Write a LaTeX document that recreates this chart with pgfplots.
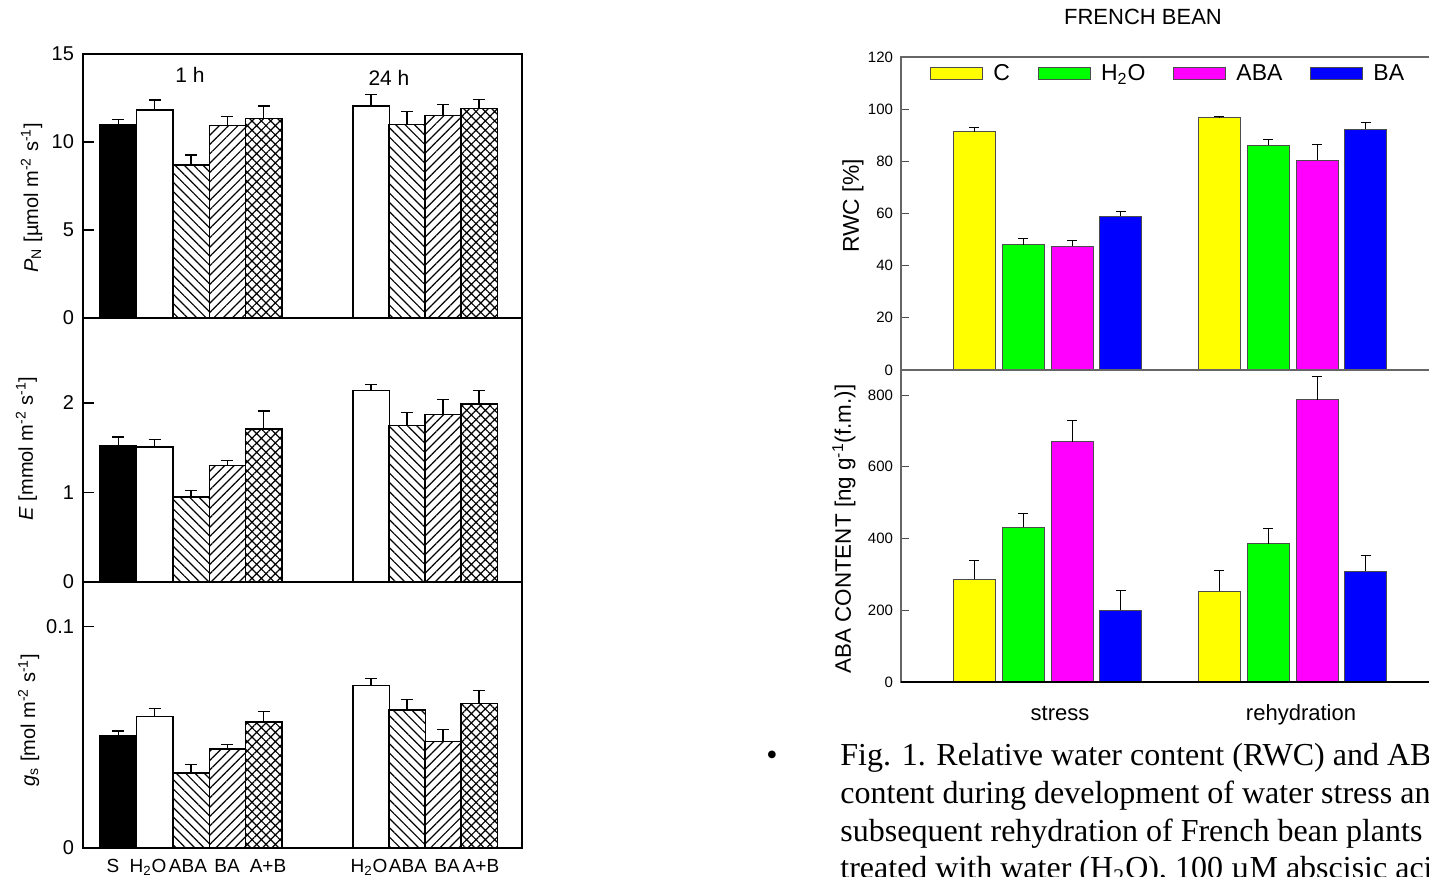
\documentclass[border=0pt]{standalone}
\usepackage{pgfplots}
\pgfplotsset{compat=1.18}
\usetikzlibrary{patterns.meta}
\usepackage{fontspec}
\setmainfont{Liberation Sans}
\newfontfamily\serif{Liberation Serif}

\definecolor{cY}{RGB}{255,255,0}
\definecolor{cG}{RGB}{0,255,0}
\definecolor{cM}{RGB}{255,0,255}
\definecolor{cB}{RGB}{0,0,255}

\pgfplotsset{
  leftpanel/.style={
    scale only axis, width=219.5pt, xmin=83, xmax=522,
    ymin=0, anchor=south west,
    axis line style={line width=0.8pt},
    ytick pos=left, tick align=inside, major tick length=5.5pt,
    tick style={line width=0.6pt, black},
    xtick=\empty,
    /pgf/number format/assume math mode=true,
    tick label style={font=\fontsize{10}{12}\selectfont},
    yticklabel style={xshift=-1pt},
    ybar,
    error bars/y dir=plus, error bars/y explicit,
    error bars/error mark options={rotate=90, black, mark size=3pt, line width=0.6pt},
    error bars/error bar style={black, line width=0.6pt},
    clip=false,
  },
  lbar/.style={ybar, bar width=36.4, bar shift=0pt, draw=black, line width=0.7pt},
  sS/.style={lbar, fill=black},
  sW/.style={lbar, fill=white},
  sABA/.style={lbar, pattern={Lines[angle=-45,distance=3.3pt,line width=0.6pt]}},
  sBA/.style={lbar, pattern={Lines[angle=45,distance=3.3pt,line width=0.6pt]}},
  sAB/.style={lbar, pattern={Hatch[angle=45,distance=3.3pt,line width=0.6pt]}},
  rightpanel/.style={
    scale only axis, width=269.5pt, xmin=901, xmax=1440,
    ymin=0, anchor=south west,
    axis line style={draw=black!60, line width=0.6pt},
    ytick pos=left, tick align=inside, major tick length=4pt,
    tick style={line width=0.6pt, black!70},
    xtick=\empty,
    /pgf/number format/assume math mode=true,
    tick label style={font=\fontsize{7.5}{9}\selectfont},
    yticklabel style={xshift=-0.5pt},
    ybar,
    error bars/y dir=plus, error bars/y explicit,
    error bars/error mark options={rotate=90, black, mark size=2.5pt, line width=0.5pt},
    error bars/error bar style={black, line width=0.5pt},
    clip=false,
    after end axis/.code={\draw[black, line width=1.1pt] (rel axis cs:0,0) -- (rel axis cs:1,0);},
  },
  rbar/.style={ybar, bar width=42, bar shift=0pt, draw=black!70, line width=0.5pt},
}

\begin{document}
\begin{tikzpicture}
\useasboundingbox (0,0) rectangle (714.5pt,438.5pt);
\clip (0,0) rectangle (714.5pt,438.5pt);

% ---------------- left: P_N ----------------
\begin{axis}[leftpanel, at={(41.5pt,279.5pt)}, height=132pt, ymax=15, ytick={0,5,10,15},
  ylabel={\textit{P}\textsubscript{N} [µmol m\textsuperscript{-2} s\textsuperscript{-1}]},
  every axis y label/.style={at={(axis description cs:-0.1025,0.456)}, rotate=90, anchor=base, font=\fontsize{10}{12}\selectfont}]
\addplot[sS]   coordinates {(118.2,11.0) +- (0,0.3)};
\addplot[sW]   coordinates {(154.6,11.82) +- (0,0.57) (371,12.05) +- (0,0.66)};
\addplot[sABA] coordinates {(191,8.69) +- (0,0.57) (407,11.0) +- (0,0.74)};
\addplot[sBA]  coordinates {(227.4,10.93) +- (0,0.51) (443,11.5) +- (0,0.62)};
\addplot[sAB]  coordinates {(263.8,11.35) +- (0,0.7) (479,11.89) +- (0,0.51)};
\node[font=\fontsize{10.5}{12}\selectfont] at (axis cs:190,13.8) {1 h};
\node[font=\fontsize{10.5}{12}\selectfont] at (axis cs:389,13.64) {24 h};
\end{axis}

% ---------------- left: E ----------------
\begin{axis}[leftpanel, at={(41.5pt,147.5pt)}, height=132pt, ymax=2.95, ytick={0,1,2},
  ylabel={\textit{E} [mmol m\textsuperscript{-2} s\textsuperscript{-1}]},
  every axis y label/.style={at={(axis description cs:-0.114,0.506)}, rotate=90, anchor=base, font=\fontsize{10}{12}\selectfont}]
\addplot[sS]   coordinates {(118.2,1.52) +- (0,0.10)};
\addplot[sW]   coordinates {(154.6,1.51) +- (0,0.08) (371,2.14) +- (0,0.07)};
\addplot[sABA] coordinates {(191,0.95) +- (0,0.07) (407,1.75) +- (0,0.14)};
\addplot[sBA]  coordinates {(227.4,1.30) +- (0,0.06) (443,1.87) +- (0,0.17)};
\addplot[sAB]  coordinates {(263.8,1.71) +- (0,0.20) (479,1.99) +- (0,0.15)};
\end{axis}

% ---------------- left: g_s ----------------
\begin{axis}[leftpanel, at={(41.5pt,14.5pt)}, height=133pt, ymax=0.12, ytick={0,0.1},
  xtick={113,148,188,227,268,369,408,447,481},
  xticklabels={S, H\textsubscript{2}O, ABA, BA, A+B, H\textsubscript{2}O, ABA, BA, A+B},
  xtick pos=bottom, xtick style={draw=none},
  xticklabel style={font=\fontsize{9.5}{11}\selectfont, text height=7pt, text depth=0pt, inner sep=1pt, yshift=1.5pt},
  ylabel={\textit{g}\textsubscript{s} [mol m\textsuperscript{-2} s\textsuperscript{-1}]},
  every axis y label/.style={at={(axis description cs:-0.109,0.481)}, rotate=90, anchor=base, font=\fontsize{10}{12}\selectfont}]
\addplot[sS]   coordinates {(118.2,0.0506) +- (0,0.0022)};
\addplot[sW]   coordinates {(154.6,0.0593) +- (0,0.0036) (371,0.0734) +- (0,0.0030)};
\addplot[sABA] coordinates {(191,0.0339) +- (0,0.0038) (407,0.0623) +- (0,0.0047)};
\addplot[sBA]  coordinates {(227.4,0.0447) +- (0,0.0020) (443,0.0480) +- (0,0.0053)};
\addplot[sAB]  coordinates {(263.8,0.0569) +- (0,0.0047) (479,0.0653) +- (0,0.0057)};
\end{axis}

% ---------------- right: RWC ----------------
\begin{axis}[rightpanel, at={(450.5pt,253.5pt)}, height=156.5pt, ymax=120, ytick={0,20,...,120},
  ylabel={RWC [\%]},
  every axis y label/.style={at={(axis description cs:-0.078,0.524)}, rotate=90, anchor=base, font=\fontsize{11.4}{13}\selectfont},
  legend columns=4,
  legend image code/.code={\draw[#1] (0pt,-3pt) rectangle (26pt,3pt);},
  legend style={draw=none, fill=none, at={(rel axis cs:0.0538,0.946)}, anchor=west,
    inner sep=0pt, font=\fontsize{11.5}{13}\selectfont,
    /tikz/every odd column/.append style={column sep=3pt},
    /tikz/every even column/.append style={column sep=12pt}}]
\addplot[rbar, fill=cY] coordinates {(974,91.4) +- (0,1.6) (1219,96.7) +- (0,0.3)};
\addplot[rbar, fill=cG] coordinates {(1023,48.0) +- (0,2.3) (1268,86.1) +- (0,2.1)};
\addplot[rbar, fill=cM] coordinates {(1072,47.5) +- (0,2.1) (1317,80.4) +- (0,6.1)};
\addplot[rbar, fill=cB] coordinates {(1120.5,58.9) +- (0,1.8) (1365.5,92.3) +- (0,2.5)};
\legend{C, H\textsubscript{2}O, ABA, BA}
\end{axis}

% ---------------- right: ABA content ----------------
\begin{axis}[rightpanel, at={(450.5pt,97.5pt)}, height=156pt, ymax=870, ytick={0,200,...,800},
  xtick={1060,1301}, xticklabels={stress, rehydration},
  xtick pos=bottom, xtick style={draw=none},
  xticklabel style={font=\fontsize{11}{13}\selectfont, text height=8pt, text depth=2pt, yshift=-3.5pt},
  ylabel={ABA CONTENT [ng g\textsuperscript{-1}(f.m.)]},
  every axis y label/.style={at={(axis description cs:-0.0928,0.49)}, rotate=90, anchor=base, font=\fontsize{11.2}{13}\selectfont}]
\addplot[rbar, fill=cY] coordinates {(974,287) +- (0,52) (1219,253) +- (0,57)};
\addplot[rbar, fill=cG] coordinates {(1023,431) +- (0,39) (1268,385) +- (0,43)};
\addplot[rbar, fill=cM] coordinates {(1072,670) +- (0,58) (1317,787) +- (0,65)};
\addplot[rbar, fill=cB] coordinates {(1120.5,200) +- (0,55) (1365.5,309) +- (0,45)};
\end{axis}

% ---------------- title and caption ----------------
\node[font=\fontsize{11}{13}\selectfont] at (571.5pt,430pt) {FRENCH BEAN};
\node[anchor=base west, inner sep=0pt, font=\serif\fontsize{16}{19}\selectfont] at (383pt,55.5pt) {•};
\node[anchor=base west, inner sep=0pt, font=\serif\fontsize{16}{19}\selectfont] at (420pt,55.5pt) {Fig. 1. Relative water content (RWC) and ABA};
\node[anchor=base west, inner sep=0pt, font=\serif\fontsize{16}{19}\selectfont] at (420pt,36.5pt) {content during development of water stress and};
\node[anchor=base west, inner sep=0pt, font=\serif\fontsize{16}{19}\selectfont] at (420pt,17.5pt) {subsequent rehydration of French bean plants};
\node[anchor=base west, inner sep=0pt, font=\serif\fontsize{16}{19}\selectfont] at (420pt,-1pt) {treated with water (H\textsubscript{2}O), 100 µM abscisic acid};
\end{tikzpicture}
\end{document}
